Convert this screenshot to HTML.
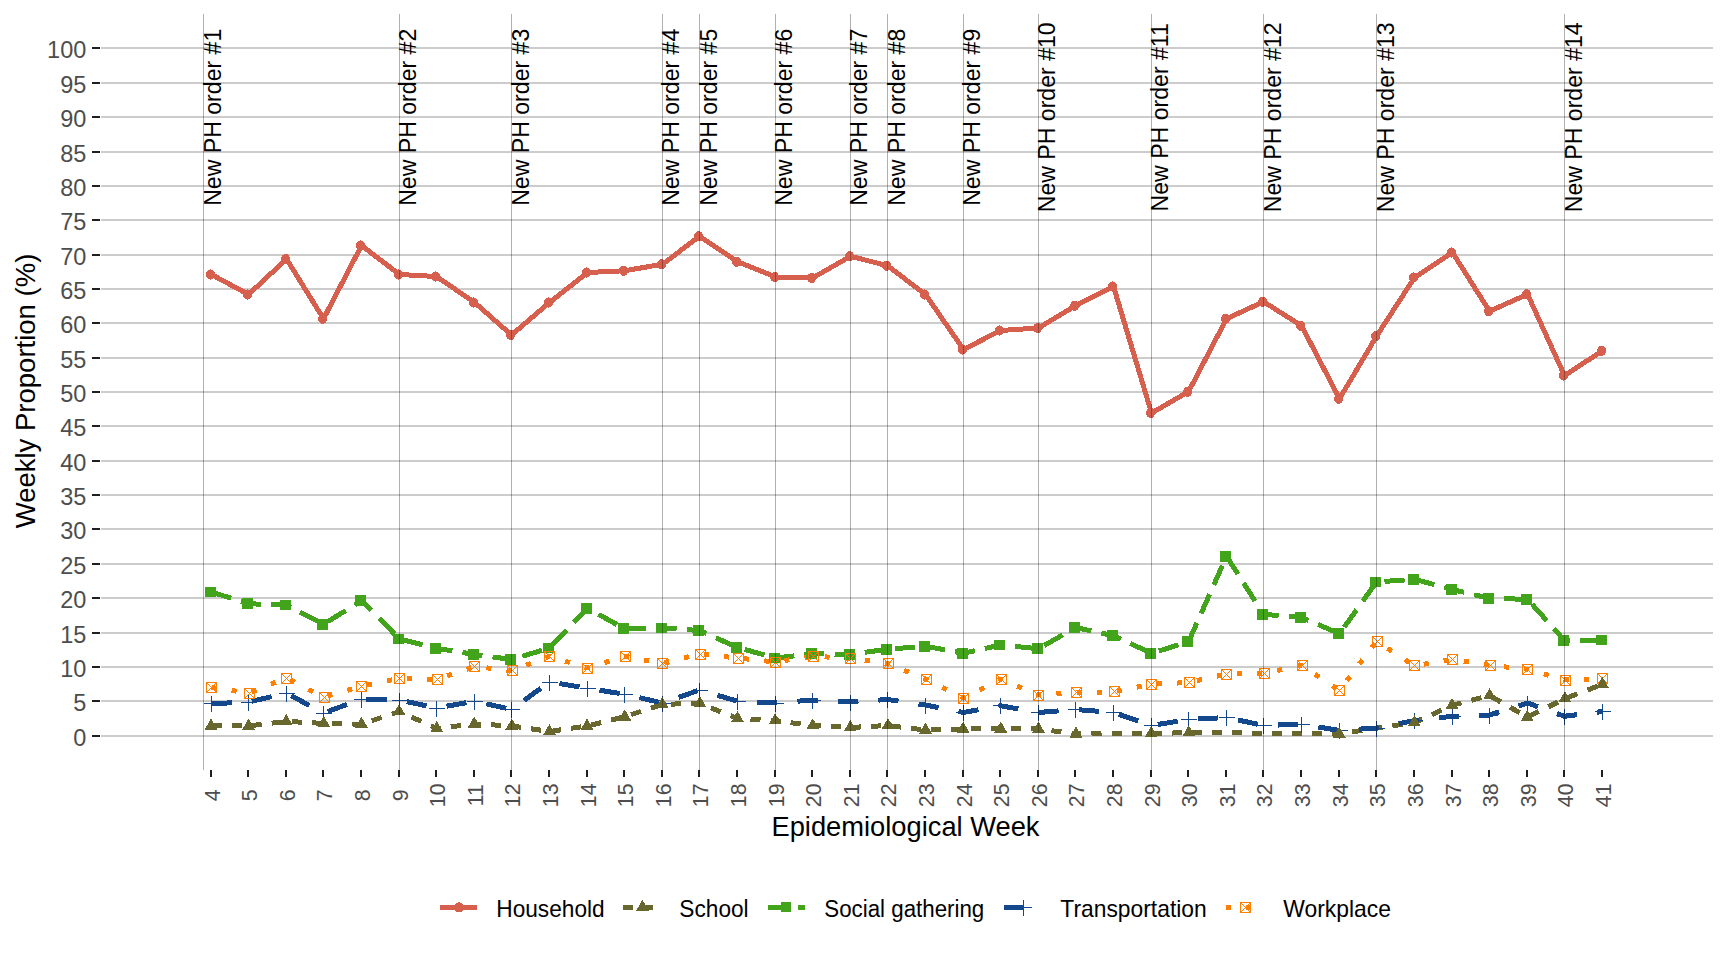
<!DOCTYPE html>
<html><head><meta charset="utf-8"><title>Weekly Proportion by Exposure Setting</title>
<style>html,body{margin:0;padding:0;background:#fff;}body{width:1728px;height:960px;overflow:hidden;}svg{display:block;}text{font-family:"Liberation Sans",sans-serif;}</style>
</head><body>
<svg width="1728" height="960" viewBox="0 0 1728 960">
<rect x="0" y="0" width="1728" height="960" fill="#ffffff"/>
<g stroke="#CCCCCC" stroke-width="2" shape-rendering="crispEdges">
<line x1="101" y1="736" x2="1713" y2="736"/>
<line x1="101" y1="701" x2="1713" y2="701"/>
<line x1="101" y1="667" x2="1713" y2="667"/>
<line x1="101" y1="633" x2="1713" y2="633"/>
<line x1="101" y1="598" x2="1713" y2="598"/>
<line x1="101" y1="564" x2="1713" y2="564"/>
<line x1="101" y1="529" x2="1713" y2="529"/>
<line x1="101" y1="495" x2="1713" y2="495"/>
<line x1="101" y1="461" x2="1713" y2="461"/>
<line x1="101" y1="426" x2="1713" y2="426"/>
<line x1="101" y1="392" x2="1713" y2="392"/>
<line x1="101" y1="358" x2="1713" y2="358"/>
<line x1="101" y1="323" x2="1713" y2="323"/>
<line x1="101" y1="289" x2="1713" y2="289"/>
<line x1="101" y1="255" x2="1713" y2="255"/>
<line x1="101" y1="220" x2="1713" y2="220"/>
<line x1="101" y1="186" x2="1713" y2="186"/>
<line x1="101" y1="152" x2="1713" y2="152"/>
<line x1="101" y1="117" x2="1713" y2="117"/>
<line x1="101" y1="83" x2="1713" y2="83"/>
<line x1="101" y1="48" x2="1713" y2="48"/>
</g>
<g stroke="#1F1F1F" stroke-width="2" shape-rendering="crispEdges">
<line x1="92" y1="736" x2="100" y2="736"/>
<line x1="92" y1="701" x2="100" y2="701"/>
<line x1="92" y1="667" x2="100" y2="667"/>
<line x1="92" y1="633" x2="100" y2="633"/>
<line x1="92" y1="598" x2="100" y2="598"/>
<line x1="92" y1="564" x2="100" y2="564"/>
<line x1="92" y1="529" x2="100" y2="529"/>
<line x1="92" y1="495" x2="100" y2="495"/>
<line x1="92" y1="461" x2="100" y2="461"/>
<line x1="92" y1="426" x2="100" y2="426"/>
<line x1="92" y1="392" x2="100" y2="392"/>
<line x1="92" y1="358" x2="100" y2="358"/>
<line x1="92" y1="323" x2="100" y2="323"/>
<line x1="92" y1="289" x2="100" y2="289"/>
<line x1="92" y1="255" x2="100" y2="255"/>
<line x1="92" y1="220" x2="100" y2="220"/>
<line x1="92" y1="186" x2="100" y2="186"/>
<line x1="92" y1="152" x2="100" y2="152"/>
<line x1="92" y1="117" x2="100" y2="117"/>
<line x1="92" y1="83" x2="100" y2="83"/>
<line x1="92" y1="48" x2="100" y2="48"/>
</g>
<g stroke="#1F1F1F" stroke-width="2" shape-rendering="crispEdges">
<line x1="211" y1="770" x2="211" y2="777"/>
<line x1="248" y1="770" x2="248" y2="777"/>
<line x1="286" y1="770" x2="286" y2="777"/>
<line x1="323" y1="770" x2="323" y2="777"/>
<line x1="361" y1="770" x2="361" y2="777"/>
<line x1="399" y1="770" x2="399" y2="777"/>
<line x1="436" y1="770" x2="436" y2="777"/>
<line x1="474" y1="770" x2="474" y2="777"/>
<line x1="511" y1="770" x2="511" y2="777"/>
<line x1="549" y1="770" x2="549" y2="777"/>
<line x1="587" y1="770" x2="587" y2="777"/>
<line x1="624" y1="770" x2="624" y2="777"/>
<line x1="662" y1="770" x2="662" y2="777"/>
<line x1="699" y1="770" x2="699" y2="777"/>
<line x1="737" y1="770" x2="737" y2="777"/>
<line x1="775" y1="770" x2="775" y2="777"/>
<line x1="812" y1="770" x2="812" y2="777"/>
<line x1="850" y1="770" x2="850" y2="777"/>
<line x1="887" y1="770" x2="887" y2="777"/>
<line x1="925" y1="770" x2="925" y2="777"/>
<line x1="963" y1="770" x2="963" y2="777"/>
<line x1="1000" y1="770" x2="1000" y2="777"/>
<line x1="1038" y1="770" x2="1038" y2="777"/>
<line x1="1075" y1="770" x2="1075" y2="777"/>
<line x1="1113" y1="770" x2="1113" y2="777"/>
<line x1="1151" y1="770" x2="1151" y2="777"/>
<line x1="1188" y1="770" x2="1188" y2="777"/>
<line x1="1226" y1="770" x2="1226" y2="777"/>
<line x1="1263" y1="770" x2="1263" y2="777"/>
<line x1="1301" y1="770" x2="1301" y2="777"/>
<line x1="1339" y1="770" x2="1339" y2="777"/>
<line x1="1376" y1="770" x2="1376" y2="777"/>
<line x1="1414" y1="770" x2="1414" y2="777"/>
<line x1="1452" y1="770" x2="1452" y2="777"/>
<line x1="1489" y1="770" x2="1489" y2="777"/>
<line x1="1527" y1="770" x2="1527" y2="777"/>
<line x1="1564" y1="770" x2="1564" y2="777"/>
<line x1="1602" y1="770" x2="1602" y2="777"/>
</g>
<g font-size="23.5" fill="#4D4D4D" text-anchor="end">
<text x="86.3" y="746">0</text>
<text x="86.3" y="711">5</text>
<text x="86.3" y="677">10</text>
<text x="86.3" y="643">15</text>
<text x="86.3" y="608">20</text>
<text x="86.3" y="574">25</text>
<text x="86.3" y="539">30</text>
<text x="86.3" y="505">35</text>
<text x="86.3" y="471">40</text>
<text x="86.3" y="436">45</text>
<text x="86.3" y="402">50</text>
<text x="86.3" y="368">55</text>
<text x="86.3" y="333">60</text>
<text x="86.3" y="299">65</text>
<text x="86.3" y="265">70</text>
<text x="86.3" y="230">75</text>
<text x="86.3" y="196">80</text>
<text x="86.3" y="162">85</text>
<text x="86.3" y="127">90</text>
<text x="86.3" y="93">95</text>
<text x="86.3" y="58">100</text>
</g>
<g font-size="21.3" fill="#4D4D4D" text-anchor="middle">
<text transform="translate(220.1,795.3) rotate(-90)">4</text>
<text transform="translate(257.1,795.3) rotate(-90)">5</text>
<text transform="translate(295.1,795.3) rotate(-90)">6</text>
<text transform="translate(332.1,795.3) rotate(-90)">7</text>
<text transform="translate(370.1,795.3) rotate(-90)">8</text>
<text transform="translate(408.1,795.3) rotate(-90)">9</text>
<text transform="translate(445.1,795.3) rotate(-90)">10</text>
<text transform="translate(483.1,795.3) rotate(-90)">11</text>
<text transform="translate(520.1,795.3) rotate(-90)">12</text>
<text transform="translate(558.1,795.3) rotate(-90)">13</text>
<text transform="translate(596.1,795.3) rotate(-90)">14</text>
<text transform="translate(633.1,795.3) rotate(-90)">15</text>
<text transform="translate(671.1,795.3) rotate(-90)">16</text>
<text transform="translate(708.1,795.3) rotate(-90)">17</text>
<text transform="translate(746.1,795.3) rotate(-90)">18</text>
<text transform="translate(784.1,795.3) rotate(-90)">19</text>
<text transform="translate(821.1,795.3) rotate(-90)">20</text>
<text transform="translate(859.1,795.3) rotate(-90)">21</text>
<text transform="translate(896.1,795.3) rotate(-90)">22</text>
<text transform="translate(934.1,795.3) rotate(-90)">23</text>
<text transform="translate(972.1,795.3) rotate(-90)">24</text>
<text transform="translate(1009.1,795.3) rotate(-90)">25</text>
<text transform="translate(1047.1,795.3) rotate(-90)">26</text>
<text transform="translate(1084.1,795.3) rotate(-90)">27</text>
<text transform="translate(1122.1,795.3) rotate(-90)">28</text>
<text transform="translate(1160.1,795.3) rotate(-90)">29</text>
<text transform="translate(1197.1,795.3) rotate(-90)">30</text>
<text transform="translate(1235.1,795.3) rotate(-90)">31</text>
<text transform="translate(1272.1,795.3) rotate(-90)">32</text>
<text transform="translate(1310.1,795.3) rotate(-90)">33</text>
<text transform="translate(1348.1,795.3) rotate(-90)">34</text>
<text transform="translate(1385.1,795.3) rotate(-90)">35</text>
<text transform="translate(1423.1,795.3) rotate(-90)">36</text>
<text transform="translate(1461.1,795.3) rotate(-90)">37</text>
<text transform="translate(1498.1,795.3) rotate(-90)">38</text>
<text transform="translate(1536.1,795.3) rotate(-90)">39</text>
<text transform="translate(1573.1,795.3) rotate(-90)">40</text>
<text transform="translate(1611.1,795.3) rotate(-90)">41</text>
</g>
<text x="905.5" y="836" font-size="27.3" fill="#000" text-anchor="middle">Epidemiological Week</text>
<text transform="translate(35.2,391) rotate(-90)" font-size="27.5" fill="#000" text-anchor="middle">Weekly Proportion (%)</text>
<g fill="none" stroke-width="5" stroke-linejoin="round" stroke-linecap="butt" shape-rendering="crispEdges">
<path d="M211.50,274.50 L248.50,294.50 L286.50,259.00 L323.50,318.75 L361.50,245.50 L399.50,274.50 L436.50,276.50 L474.50,302.50 L511.50,335.00 L549.50,302.50 L587.50,272.50 L624.50,270.75 L662.50,264.25 L699.50,236.25 L737.50,261.75 L775.50,277.00 L812.50,278.00 L850.50,256.25 L887.50,265.75 L925.50,294.50 L963.50,349.50 L1000.50,330.50 L1038.50,328.00 L1075.50,305.75 L1113.50,286.50 L1151.50,413.00 L1188.50,391.75 L1226.50,318.75 L1263.50,301.75 L1301.50,325.75 L1339.50,398.75 L1376.50,336.25 L1414.50,277.50 L1452.50,252.50 L1489.50,311.25 L1527.50,294.25 L1564.50,375.50 L1602.50,350.75" stroke="#D6604D"/>
<path d="M211.50,725.90 L221.53,725.90 M231.56,725.90 L241.59,725.90 M251.62,725.53 L261.65,724.34 M271.68,723.16 L281.70,721.97 M291.73,721.68 L301.76,722.23 M311.79,722.77 L321.82,723.31 M331.85,723.58 L341.88,723.79 M351.91,724.00 L361.50,724.20 L361.94,724.05 M371.87,720.73 L381.81,717.41 M391.74,714.09 L399.50,711.50 L401.64,712.48 M411.38,716.93 L421.12,721.38 M430.86,725.83 L436.50,728.40 L440.73,727.90 M450.76,726.71 L460.78,725.52 M470.81,724.34 L474.50,723.90 L480.84,724.24 M490.87,724.78 L500.90,725.33 M510.93,725.87 L511.50,725.90 L520.96,727.29 M530.98,728.77 L541.01,730.25 M551.04,731.27 L561.06,729.80 M571.09,728.32 L581.11,726.84 M591.13,725.01 L601.13,722.55 M611.13,720.09 L621.13,717.63 M631.09,714.63 L641.03,711.36 M650.97,708.09 L660.91,704.82 M670.93,704.10 L680.96,703.85 M690.99,703.61 L699.50,703.40 L700.99,703.99 M710.85,707.88 L720.70,711.77 M730.56,715.66 L737.50,718.40 L740.47,718.57 M750.50,719.15 L760.53,719.73 M770.56,720.31 L775.50,720.60 L780.59,721.29 M790.61,722.64 L800.64,724.00 M810.67,725.35 L812.50,725.60 L820.70,726.01 M830.73,726.51 L840.76,727.01 M850.79,727.48 L860.82,726.94 M870.85,726.40 L880.88,725.86 M890.90,725.90 L900.93,727.09 M910.96,728.28 L920.99,729.47 M931.02,729.85 L941.05,729.59 M951.08,729.33 L961.11,729.06 M971.14,728.98 L981.17,728.95 M991.20,728.93 L1000.50,728.90 L1001.23,728.90 M1011.26,728.90 L1021.29,728.90 M1031.32,728.90 L1038.50,728.90 L1041.35,729.28 M1051.38,730.64 L1061.40,731.99 M1071.43,733.35 L1075.50,733.90 L1081.46,733.82 M1091.49,733.69 L1101.52,733.56 M1111.55,733.43 L1113.50,733.40 L1121.58,733.40 M1131.61,733.40 L1141.64,733.40 M1151.67,733.40 L1161.70,733.21 M1171.73,733.02 L1181.76,732.83 M1191.79,732.71 L1201.82,732.74 M1211.85,732.76 L1221.88,732.79 M1231.91,732.84 L1241.94,732.93 M1251.97,733.01 L1262.00,733.09 M1272.03,733.12 L1282.06,733.15 M1292.09,733.18 L1301.50,733.20 L1302.12,733.21 M1312.15,733.40 L1322.18,733.58 M1332.21,733.77 L1339.50,733.90 L1342.24,733.48 M1352.26,731.93 L1362.29,730.39 M1372.31,728.85 L1376.50,728.20 L1382.34,727.32 M1392.36,725.82 L1402.39,724.32 M1412.41,722.81 L1414.50,722.50 L1422.22,718.99 M1431.96,714.55 L1441.71,710.11 M1451.46,705.68 L1452.50,705.20 L1461.42,702.86 M1471.41,700.24 L1481.40,697.62 M1491.29,696.52 L1500.73,701.91 M1510.17,707.30 L1519.61,712.69 M1529.08,716.41 L1538.72,711.60 M1548.37,706.79 L1558.01,701.98 M1567.74,697.52 L1577.61,693.76 M1587.49,690.01 L1597.37,686.25" stroke="#67672E"/>
<path d="M211.50,592.00 L231.10,598.22 M240.90,601.34 L248.50,603.75 L260.82,604.16 M270.88,604.49 L286.50,605.00 L290.66,607.16 M299.96,612.00 L318.56,621.68 M327.72,621.64 L345.72,610.51 M354.72,604.94 L361.50,600.75 L371.13,610.44 M378.85,618.21 L394.30,633.76 M402.74,639.81 L422.56,644.77 M432.47,647.24 L436.50,648.25 L452.45,650.87 M462.45,652.52 L474.50,654.50 L482.48,655.58 M492.51,656.93 L511.50,659.50 L512.54,659.18 M522.37,656.21 L542.03,650.26 M551.31,646.11 L566.40,630.32 M573.94,622.43 L587.50,608.25 L589.37,609.29 M598.57,614.38 L616.97,624.58 M626.33,628.71 L646.45,628.32 M656.51,628.12 L662.50,628.00 L676.62,628.95 M686.67,629.63 L699.50,630.50 L706.38,633.58 M715.89,637.83 L734.90,646.34 M744.67,649.48 L764.42,654.94 M774.29,657.67 L775.50,658.00 L794.34,655.84 M804.38,654.68 L812.50,653.75 L824.48,653.91 M834.54,654.04 L850.50,654.25 L854.65,653.69 M864.68,652.33 L884.73,649.62 M894.77,648.68 L914.88,647.09 M924.93,646.30 L925.50,646.25 L944.91,649.83 M954.90,651.67 L963.50,653.25 L974.83,650.72 M984.78,648.51 L1000.50,645.00 L1004.71,645.42 M1014.76,646.41 L1034.85,648.39 M1044.31,645.41 L1062.59,634.91 M1071.73,629.67 L1075.50,627.50 L1091.30,630.93 M1101.25,633.09 L1113.50,635.75 L1120.79,639.11 M1130.26,643.47 L1149.20,652.19 M1158.93,650.94 L1178.56,644.84 M1188.37,641.79 L1188.50,641.75 L1196.90,622.85 M1201.13,613.34 L1209.58,594.31 M1213.81,584.80 L1222.27,565.77 M1226.50,556.26 L1226.50,556.25 L1237.89,574.11 M1243.60,583.05 L1255.00,600.92 M1260.70,609.86 L1263.50,614.25 L1278.66,615.55 M1288.71,616.41 L1301.50,617.50 L1308.45,620.47 M1318.00,624.56 L1337.11,632.73 M1344.16,627.23 L1356.57,609.87 M1362.78,601.18 L1375.20,583.82 M1384.45,581.42 L1404.55,579.97 M1414.60,579.28 L1434.37,584.61 M1444.25,587.28 L1452.50,589.50 L1464.06,592.31 M1473.98,594.73 L1489.50,598.50 L1493.89,598.59 M1503.95,598.79 L1524.07,599.18 M1532.28,604.57 L1546.77,620.74 M1554.02,628.82 L1564.50,640.50 L1570.08,640.43 M1580.14,640.29 L1600.26,640.03" stroke="#42A41A"/>
<path d="M211.50,703.75 L231.74,702.79 M251.90,701.22 L271.70,696.66 M291.10,695.70 L309.30,705.42 M327.72,711.47 L346.92,704.53 M366.37,699.35 L386.62,699.75 M406.73,701.56 L426.59,705.86 M446.50,706.22 L466.48,702.67 M486.37,703.90 L506.20,708.32 M523.96,700.48 L540.97,688.17 M559.49,683.64 L579.51,686.94 M599.53,690.20 L619.56,693.45 M639.41,697.68 L659.21,702.24 M678.55,697.36 L697.80,690.60 M717.30,695.27 L736.82,701.05 M757.04,702.15 L775.50,703.00 L777.28,702.86 M797.48,701.22 L812.50,700.00 L817.69,700.27 M837.92,701.34 L850.50,702.00 L858.15,701.48 M878.37,700.12 L887.50,699.50 L898.51,701.09 M918.58,704.00 L925.50,705.00 L938.55,707.58 M958.47,711.51 L963.50,712.50 L978.42,709.78 M998.39,706.14 L1000.50,705.75 L1018.37,708.92 M1038.35,712.47 L1038.50,712.50 L1058.55,710.87 M1078.75,709.76 L1098.95,711.35 M1118.90,714.35 L1138.20,720.95 M1157.72,724.49 L1177.75,721.24 M1197.87,719.01 L1218.11,717.94 M1238.12,720.01 L1257.97,724.30 M1278.11,725.02 L1298.36,724.35 M1318.41,727.03 L1338.43,730.32 M1358.64,729.21 L1376.50,728.00 L1378.83,727.54 M1398.74,723.61 L1414.50,720.50 L1418.71,720.03 M1438.86,717.78 L1452.50,716.25 L1459.04,716.03 M1479.29,715.35 L1489.50,715.00 L1499.13,711.96 M1518.56,705.82 L1527.50,703.00 L1537.87,706.71 M1557.09,713.60 L1564.50,716.25 L1576.86,714.71 M1596.98,712.19 L1602.50,711.50" stroke="#14488D"/>
<path d="M211.50,687.50 L216.52,688.25 M231.57,690.48 L236.59,691.23 M251.52,691.81 L256.35,689.90 M270.84,684.18 L275.67,682.28 M290.02,679.81 L294.66,682.19 M308.58,689.34 L313.23,691.72 M327.39,695.90 L332.34,694.50 M347.19,690.30 L352.14,688.90 M367.04,685.08 L372.03,684.03 M387.02,680.88 L392.01,679.83 M407.05,678.51 L412.08,678.68 M427.17,679.18 L432.20,679.35 M447.00,675.91 L451.89,674.24 M466.57,669.21 L471.46,667.54 M486.45,667.87 L491.48,668.45 M506.55,670.18 L511.50,670.75 L511.57,670.72 M526.11,665.17 L530.96,663.33 M545.50,657.78 L549.50,656.25 L550.36,656.52 M565.14,661.09 L570.06,662.61 M584.84,667.18 L587.50,668.00 L589.77,667.28 M604.52,662.59 L609.44,661.03 M624.19,656.35 L624.50,656.25 L629.19,657.15 M644.20,660.01 L649.21,660.96 M664.21,663.06 L669.18,661.79 M684.08,657.96 L689.05,656.68 M704.01,654.47 L709.03,655.00 M724.11,656.59 L729.13,657.12 M744.21,658.71 L749.24,659.24 M764.31,660.82 L769.34,661.35 M784.40,660.62 L789.41,659.84 M804.46,657.50 L809.48,656.72 M824.56,656.88 L829.58,657.15 M844.67,657.94 L849.70,658.21 M864.76,660.27 L869.78,660.99 M884.84,663.12 L887.50,663.50 L889.76,664.42 M904.19,670.31 L909.01,672.27 M923.44,678.16 L925.50,679.00 L928.17,680.33 M942.17,687.33 L946.83,689.67 M960.83,696.67 L963.50,698.00 L965.49,696.99 M979.45,689.91 L984.11,687.56 M998.07,680.48 L1000.50,679.25 L1002.80,680.20 M1017.20,686.17 L1022.01,688.16 M1036.41,694.13 L1038.50,695.00 L1041.34,694.83 M1056.43,693.91 L1061.46,693.60 M1076.55,692.72 L1081.58,692.59 M1096.67,692.19 L1101.70,692.06 M1116.77,691.11 L1121.77,690.12 M1136.77,687.16 L1141.77,686.17 M1156.81,684.00 L1161.84,683.76 M1176.93,683.05 L1181.95,682.81 M1196.97,680.60 L1201.96,679.49 M1216.93,676.14 L1221.92,675.03 M1236.97,673.86 L1242.00,673.79 M1257.09,673.59 L1262.12,673.52 M1277.10,670.55 L1282.10,669.46 M1297.07,666.21 L1301.50,665.25 L1301.99,665.58 M1315.01,674.23 L1319.35,677.11 M1332.38,685.77 L1336.72,688.65 M1346.86,680.70 L1349.98,676.55 M1359.34,664.10 L1362.46,659.94 M1371.81,647.49 L1374.93,643.34 M1387.45,648.31 L1391.83,651.13 M1404.98,659.61 L1409.36,662.44 M1423.66,664.24 L1428.67,663.42 M1443.71,660.95 L1448.73,660.12 M1463.77,661.25 L1468.79,662.03 M1483.83,664.37 L1488.85,665.15 M1503.93,666.77 L1508.95,667.30 M1524.03,668.88 L1527.50,669.25 L1529.03,669.69 M1543.86,674.00 L1548.80,675.44 M1563.63,679.75 L1564.50,680.00 L1568.64,679.86 M1583.73,679.37 L1588.76,679.20" stroke="#FF7F00"/>
</g>
<g shape-rendering="crispEdges">
<ellipse cx="210.60" cy="274.50" rx="4.5" ry="5.1" fill="#D6604D"/>
<ellipse cx="247.60" cy="294.50" rx="4.5" ry="5.1" fill="#D6604D"/>
<ellipse cx="285.60" cy="259.00" rx="4.5" ry="5.1" fill="#D6604D"/>
<ellipse cx="322.60" cy="318.75" rx="4.5" ry="5.1" fill="#D6604D"/>
<ellipse cx="360.60" cy="245.50" rx="4.5" ry="5.1" fill="#D6604D"/>
<ellipse cx="398.60" cy="274.50" rx="4.5" ry="5.1" fill="#D6604D"/>
<ellipse cx="435.60" cy="276.50" rx="4.5" ry="5.1" fill="#D6604D"/>
<ellipse cx="473.60" cy="302.50" rx="4.5" ry="5.1" fill="#D6604D"/>
<ellipse cx="510.60" cy="335.00" rx="4.5" ry="5.1" fill="#D6604D"/>
<ellipse cx="548.60" cy="302.50" rx="4.5" ry="5.1" fill="#D6604D"/>
<ellipse cx="586.60" cy="272.50" rx="4.5" ry="5.1" fill="#D6604D"/>
<ellipse cx="623.60" cy="270.75" rx="4.5" ry="5.1" fill="#D6604D"/>
<ellipse cx="661.60" cy="264.25" rx="4.5" ry="5.1" fill="#D6604D"/>
<ellipse cx="698.60" cy="236.25" rx="4.5" ry="5.1" fill="#D6604D"/>
<ellipse cx="736.60" cy="261.75" rx="4.5" ry="5.1" fill="#D6604D"/>
<ellipse cx="774.60" cy="277.00" rx="4.5" ry="5.1" fill="#D6604D"/>
<ellipse cx="811.60" cy="278.00" rx="4.5" ry="5.1" fill="#D6604D"/>
<ellipse cx="849.60" cy="256.25" rx="4.5" ry="5.1" fill="#D6604D"/>
<ellipse cx="886.60" cy="265.75" rx="4.5" ry="5.1" fill="#D6604D"/>
<ellipse cx="924.60" cy="294.50" rx="4.5" ry="5.1" fill="#D6604D"/>
<ellipse cx="962.60" cy="349.50" rx="4.5" ry="5.1" fill="#D6604D"/>
<ellipse cx="999.60" cy="330.50" rx="4.5" ry="5.1" fill="#D6604D"/>
<ellipse cx="1037.60" cy="328.00" rx="4.5" ry="5.1" fill="#D6604D"/>
<ellipse cx="1074.60" cy="305.75" rx="4.5" ry="5.1" fill="#D6604D"/>
<ellipse cx="1112.60" cy="286.50" rx="4.5" ry="5.1" fill="#D6604D"/>
<ellipse cx="1150.60" cy="413.00" rx="4.5" ry="5.1" fill="#D6604D"/>
<ellipse cx="1187.60" cy="391.75" rx="4.5" ry="5.1" fill="#D6604D"/>
<ellipse cx="1225.60" cy="318.75" rx="4.5" ry="5.1" fill="#D6604D"/>
<ellipse cx="1262.60" cy="301.75" rx="4.5" ry="5.1" fill="#D6604D"/>
<ellipse cx="1300.60" cy="325.75" rx="4.5" ry="5.1" fill="#D6604D"/>
<ellipse cx="1338.60" cy="398.75" rx="4.5" ry="5.1" fill="#D6604D"/>
<ellipse cx="1375.60" cy="336.25" rx="4.5" ry="5.1" fill="#D6604D"/>
<ellipse cx="1413.60" cy="277.50" rx="4.5" ry="5.1" fill="#D6604D"/>
<ellipse cx="1451.60" cy="252.50" rx="4.5" ry="5.1" fill="#D6604D"/>
<ellipse cx="1488.60" cy="311.25" rx="4.5" ry="5.1" fill="#D6604D"/>
<ellipse cx="1526.60" cy="294.25" rx="4.5" ry="5.1" fill="#D6604D"/>
<ellipse cx="1563.60" cy="375.50" rx="4.5" ry="5.1" fill="#D6604D"/>
<ellipse cx="1601.60" cy="350.75" rx="4.5" ry="5.1" fill="#D6604D"/>
<rect x="205.20" y="586.70" width="10.6" height="10.6" fill="#42A41A"/>
<rect x="242.20" y="598.45" width="10.6" height="10.6" fill="#42A41A"/>
<rect x="280.20" y="599.70" width="10.6" height="10.6" fill="#42A41A"/>
<rect x="317.20" y="618.95" width="10.6" height="10.6" fill="#42A41A"/>
<rect x="355.20" y="595.45" width="10.6" height="10.6" fill="#42A41A"/>
<rect x="393.20" y="633.70" width="10.6" height="10.6" fill="#42A41A"/>
<rect x="430.20" y="642.95" width="10.6" height="10.6" fill="#42A41A"/>
<rect x="468.20" y="649.20" width="10.6" height="10.6" fill="#42A41A"/>
<rect x="505.20" y="654.20" width="10.6" height="10.6" fill="#42A41A"/>
<rect x="543.20" y="642.70" width="10.6" height="10.6" fill="#42A41A"/>
<rect x="581.20" y="602.95" width="10.6" height="10.6" fill="#42A41A"/>
<rect x="618.20" y="623.45" width="10.6" height="10.6" fill="#42A41A"/>
<rect x="656.20" y="622.70" width="10.6" height="10.6" fill="#42A41A"/>
<rect x="693.20" y="625.20" width="10.6" height="10.6" fill="#42A41A"/>
<rect x="731.20" y="642.20" width="10.6" height="10.6" fill="#42A41A"/>
<rect x="769.20" y="652.70" width="10.6" height="10.6" fill="#42A41A"/>
<rect x="806.20" y="648.45" width="10.6" height="10.6" fill="#42A41A"/>
<rect x="844.20" y="648.95" width="10.6" height="10.6" fill="#42A41A"/>
<rect x="881.20" y="643.95" width="10.6" height="10.6" fill="#42A41A"/>
<rect x="919.20" y="640.95" width="10.6" height="10.6" fill="#42A41A"/>
<rect x="957.20" y="647.95" width="10.6" height="10.6" fill="#42A41A"/>
<rect x="994.20" y="639.70" width="10.6" height="10.6" fill="#42A41A"/>
<rect x="1032.20" y="643.45" width="10.6" height="10.6" fill="#42A41A"/>
<rect x="1069.20" y="622.20" width="10.6" height="10.6" fill="#42A41A"/>
<rect x="1107.20" y="630.45" width="10.6" height="10.6" fill="#42A41A"/>
<rect x="1145.20" y="647.95" width="10.6" height="10.6" fill="#42A41A"/>
<rect x="1182.20" y="636.45" width="10.6" height="10.6" fill="#42A41A"/>
<rect x="1220.20" y="550.95" width="10.6" height="10.6" fill="#42A41A"/>
<rect x="1257.20" y="608.95" width="10.6" height="10.6" fill="#42A41A"/>
<rect x="1295.20" y="612.20" width="10.6" height="10.6" fill="#42A41A"/>
<rect x="1333.20" y="628.45" width="10.6" height="10.6" fill="#42A41A"/>
<rect x="1370.20" y="576.70" width="10.6" height="10.6" fill="#42A41A"/>
<rect x="1408.20" y="573.95" width="10.6" height="10.6" fill="#42A41A"/>
<rect x="1446.20" y="584.20" width="10.6" height="10.6" fill="#42A41A"/>
<rect x="1483.20" y="593.20" width="10.6" height="10.6" fill="#42A41A"/>
<rect x="1521.20" y="593.95" width="10.6" height="10.6" fill="#42A41A"/>
<rect x="1558.20" y="635.20" width="10.6" height="10.6" fill="#42A41A"/>
<rect x="1596.20" y="634.70" width="10.6" height="10.6" fill="#42A41A"/>
<path d="M203.5,703.5H219.5M211.5,695.5V711.5" stroke="#14488D" stroke-width="1" fill="none"/>
<path d="M240.5,702.5H256.5M248.5,694.5V710.5" stroke="#14488D" stroke-width="1" fill="none"/>
<path d="M278.5,693.5H294.5M286.5,685.5V701.5" stroke="#14488D" stroke-width="1" fill="none"/>
<path d="M315.5,713.5H331.5M323.5,705.5V721.5" stroke="#14488D" stroke-width="1" fill="none"/>
<path d="M353.5,699.5H369.5M361.5,691.5V707.5" stroke="#14488D" stroke-width="1" fill="none"/>
<path d="M391.5,700.5H407.5M399.5,692.5V708.5" stroke="#14488D" stroke-width="1" fill="none"/>
<path d="M428.5,708.5H444.5M436.5,700.5V716.5" stroke="#14488D" stroke-width="1" fill="none"/>
<path d="M466.5,701.5H482.5M474.5,693.5V709.5" stroke="#14488D" stroke-width="1" fill="none"/>
<path d="M503.5,709.5H519.5M511.5,701.5V717.5" stroke="#14488D" stroke-width="1" fill="none"/>
<path d="M541.5,682.5H557.5M549.5,674.5V690.5" stroke="#14488D" stroke-width="1" fill="none"/>
<path d="M579.5,688.5H595.5M587.5,680.5V696.5" stroke="#14488D" stroke-width="1" fill="none"/>
<path d="M616.5,694.5H632.5M624.5,686.5V702.5" stroke="#14488D" stroke-width="1" fill="none"/>
<path d="M654.5,703.5H670.5M662.5,695.5V711.5" stroke="#14488D" stroke-width="1" fill="none"/>
<path d="M691.5,690.5H707.5M699.5,682.5V698.5" stroke="#14488D" stroke-width="1" fill="none"/>
<path d="M729.5,701.5H745.5M737.5,693.5V709.5" stroke="#14488D" stroke-width="1" fill="none"/>
<path d="M767.5,703.5H783.5M775.5,695.5V711.5" stroke="#14488D" stroke-width="1" fill="none"/>
<path d="M804.5,700.5H820.5M812.5,692.5V708.5" stroke="#14488D" stroke-width="1" fill="none"/>
<path d="M842.5,702.5H858.5M850.5,694.5V710.5" stroke="#14488D" stroke-width="1" fill="none"/>
<path d="M879.5,699.5H895.5M887.5,691.5V707.5" stroke="#14488D" stroke-width="1" fill="none"/>
<path d="M917.5,705.5H933.5M925.5,697.5V713.5" stroke="#14488D" stroke-width="1" fill="none"/>
<path d="M955.5,712.5H971.5M963.5,704.5V720.5" stroke="#14488D" stroke-width="1" fill="none"/>
<path d="M992.5,705.5H1008.5M1000.5,697.5V713.5" stroke="#14488D" stroke-width="1" fill="none"/>
<path d="M1030.5,712.5H1046.5M1038.5,704.5V720.5" stroke="#14488D" stroke-width="1" fill="none"/>
<path d="M1067.5,709.5H1083.5M1075.5,701.5V717.5" stroke="#14488D" stroke-width="1" fill="none"/>
<path d="M1105.5,712.5H1121.5M1113.5,704.5V720.5" stroke="#14488D" stroke-width="1" fill="none"/>
<path d="M1143.5,725.5H1159.5M1151.5,717.5V733.5" stroke="#14488D" stroke-width="1" fill="none"/>
<path d="M1180.5,719.5H1196.5M1188.5,711.5V727.5" stroke="#14488D" stroke-width="1" fill="none"/>
<path d="M1218.5,717.5H1234.5M1226.5,709.5V725.5" stroke="#14488D" stroke-width="1" fill="none"/>
<path d="M1255.5,725.5H1271.5M1263.5,717.5V733.5" stroke="#14488D" stroke-width="1" fill="none"/>
<path d="M1293.5,724.5H1309.5M1301.5,716.5V732.5" stroke="#14488D" stroke-width="1" fill="none"/>
<path d="M1331.5,730.5H1347.5M1339.5,722.5V738.5" stroke="#14488D" stroke-width="1" fill="none"/>
<path d="M1368.5,728.5H1384.5M1376.5,720.5V736.5" stroke="#14488D" stroke-width="1" fill="none"/>
<path d="M1406.5,720.5H1422.5M1414.5,712.5V728.5" stroke="#14488D" stroke-width="1" fill="none"/>
<path d="M1444.5,716.5H1460.5M1452.5,708.5V724.5" stroke="#14488D" stroke-width="1" fill="none"/>
<path d="M1481.5,715.5H1497.5M1489.5,707.5V723.5" stroke="#14488D" stroke-width="1" fill="none"/>
<path d="M1519.5,703.5H1535.5M1527.5,695.5V711.5" stroke="#14488D" stroke-width="1" fill="none"/>
<path d="M1556.5,716.5H1572.5M1564.5,708.5V724.5" stroke="#14488D" stroke-width="1" fill="none"/>
<path d="M1594.5,711.5H1610.5M1602.5,703.5V719.5" stroke="#14488D" stroke-width="1" fill="none"/>
<path d="M206.5,682.5H216.5V692.5H206.5Z M206.5,682.5L216.5,692.5 M206.5,692.5L216.5,682.5" stroke="#FF7F00" stroke-width="1" fill="none"/>
<path d="M244.5,688.5H254.5V698.5H244.5Z M244.5,688.5L254.5,698.5 M244.5,698.5L254.5,688.5" stroke="#FF7F00" stroke-width="1" fill="none"/>
<path d="M281.5,673.5H291.5V683.5H281.5Z M281.5,673.5L291.5,683.5 M281.5,683.5L291.5,673.5" stroke="#FF7F00" stroke-width="1" fill="none"/>
<path d="M319.5,692.5H329.5V702.5H319.5Z M319.5,692.5L329.5,702.5 M319.5,702.5L329.5,692.5" stroke="#FF7F00" stroke-width="1" fill="none"/>
<path d="M356.5,681.5H366.5V691.5H356.5Z M356.5,681.5L366.5,691.5 M356.5,691.5L366.5,681.5" stroke="#FF7F00" stroke-width="1" fill="none"/>
<path d="M394.5,673.5H404.5V683.5H394.5Z M394.5,673.5L404.5,683.5 M394.5,683.5L404.5,673.5" stroke="#FF7F00" stroke-width="1" fill="none"/>
<path d="M432.5,674.5H442.5V684.5H432.5Z M432.5,674.5L442.5,684.5 M432.5,684.5L442.5,674.5" stroke="#FF7F00" stroke-width="1" fill="none"/>
<path d="M469.5,661.5H479.5V671.5H469.5Z M469.5,661.5L479.5,671.5 M469.5,671.5L479.5,661.5" stroke="#FF7F00" stroke-width="1" fill="none"/>
<path d="M507.5,665.5H517.5V675.5H507.5Z M507.5,665.5L517.5,675.5 M507.5,675.5L517.5,665.5" stroke="#FF7F00" stroke-width="1" fill="none"/>
<path d="M544.5,651.5H554.5V661.5H544.5Z M544.5,651.5L554.5,661.5 M544.5,661.5L554.5,651.5" stroke="#FF7F00" stroke-width="1" fill="none"/>
<path d="M582.5,663.5H592.5V673.5H582.5Z M582.5,663.5L592.5,673.5 M582.5,673.5L592.5,663.5" stroke="#FF7F00" stroke-width="1" fill="none"/>
<path d="M620.5,651.5H630.5V661.5H620.5Z M620.5,651.5L630.5,661.5 M620.5,661.5L630.5,651.5" stroke="#FF7F00" stroke-width="1" fill="none"/>
<path d="M657.5,658.5H667.5V668.5H657.5Z M657.5,658.5L667.5,668.5 M657.5,668.5L667.5,658.5" stroke="#FF7F00" stroke-width="1" fill="none"/>
<path d="M695.5,649.5H705.5V659.5H695.5Z M695.5,649.5L705.5,659.5 M695.5,659.5L705.5,649.5" stroke="#FF7F00" stroke-width="1" fill="none"/>
<path d="M733.5,653.5H743.5V663.5H733.5Z M733.5,653.5L743.5,663.5 M733.5,663.5L743.5,653.5" stroke="#FF7F00" stroke-width="1" fill="none"/>
<path d="M770.5,657.5H780.5V667.5H770.5Z M770.5,657.5L780.5,667.5 M770.5,667.5L780.5,657.5" stroke="#FF7F00" stroke-width="1" fill="none"/>
<path d="M808.5,651.5H818.5V661.5H808.5Z M808.5,651.5L818.5,661.5 M808.5,661.5L818.5,651.5" stroke="#FF7F00" stroke-width="1" fill="none"/>
<path d="M845.5,653.5H855.5V663.5H845.5Z M845.5,653.5L855.5,663.5 M845.5,663.5L855.5,653.5" stroke="#FF7F00" stroke-width="1" fill="none"/>
<path d="M883.5,658.5H893.5V668.5H883.5Z M883.5,658.5L893.5,668.5 M883.5,668.5L893.5,658.5" stroke="#FF7F00" stroke-width="1" fill="none"/>
<path d="M921.5,674.5H931.5V684.5H921.5Z M921.5,674.5L931.5,684.5 M921.5,684.5L931.5,674.5" stroke="#FF7F00" stroke-width="1" fill="none"/>
<path d="M958.5,693.5H968.5V703.5H958.5Z M958.5,693.5L968.5,703.5 M958.5,703.5L968.5,693.5" stroke="#FF7F00" stroke-width="1" fill="none"/>
<path d="M996.5,674.5H1006.5V684.5H996.5Z M996.5,674.5L1006.5,684.5 M996.5,684.5L1006.5,674.5" stroke="#FF7F00" stroke-width="1" fill="none"/>
<path d="M1033.5,690.5H1043.5V700.5H1033.5Z M1033.5,690.5L1043.5,700.5 M1033.5,700.5L1043.5,690.5" stroke="#FF7F00" stroke-width="1" fill="none"/>
<path d="M1071.5,687.5H1081.5V697.5H1071.5Z M1071.5,687.5L1081.5,697.5 M1071.5,697.5L1081.5,687.5" stroke="#FF7F00" stroke-width="1" fill="none"/>
<path d="M1109.5,686.5H1119.5V696.5H1109.5Z M1109.5,686.5L1119.5,696.5 M1109.5,696.5L1119.5,686.5" stroke="#FF7F00" stroke-width="1" fill="none"/>
<path d="M1146.5,679.5H1156.5V689.5H1146.5Z M1146.5,679.5L1156.5,689.5 M1146.5,689.5L1156.5,679.5" stroke="#FF7F00" stroke-width="1" fill="none"/>
<path d="M1184.5,677.5H1194.5V687.5H1184.5Z M1184.5,677.5L1194.5,687.5 M1184.5,687.5L1194.5,677.5" stroke="#FF7F00" stroke-width="1" fill="none"/>
<path d="M1221.5,669.5H1231.5V679.5H1221.5Z M1221.5,669.5L1231.5,679.5 M1221.5,679.5L1231.5,669.5" stroke="#FF7F00" stroke-width="1" fill="none"/>
<path d="M1259.5,668.5H1269.5V678.5H1259.5Z M1259.5,668.5L1269.5,678.5 M1259.5,678.5L1269.5,668.5" stroke="#FF7F00" stroke-width="1" fill="none"/>
<path d="M1297.5,660.5H1307.5V670.5H1297.5Z M1297.5,660.5L1307.5,670.5 M1297.5,670.5L1307.5,660.5" stroke="#FF7F00" stroke-width="1" fill="none"/>
<path d="M1334.5,685.5H1344.5V695.5H1334.5Z M1334.5,685.5L1344.5,695.5 M1334.5,695.5L1344.5,685.5" stroke="#FF7F00" stroke-width="1" fill="none"/>
<path d="M1372.5,636.5H1382.5V646.5H1372.5Z M1372.5,636.5L1382.5,646.5 M1372.5,646.5L1382.5,636.5" stroke="#FF7F00" stroke-width="1" fill="none"/>
<path d="M1409.5,660.5H1419.5V670.5H1409.5Z M1409.5,660.5L1419.5,670.5 M1409.5,670.5L1419.5,660.5" stroke="#FF7F00" stroke-width="1" fill="none"/>
<path d="M1447.5,654.5H1457.5V664.5H1447.5Z M1447.5,654.5L1457.5,664.5 M1447.5,664.5L1457.5,654.5" stroke="#FF7F00" stroke-width="1" fill="none"/>
<path d="M1485.5,660.5H1495.5V670.5H1485.5Z M1485.5,660.5L1495.5,670.5 M1485.5,670.5L1495.5,660.5" stroke="#FF7F00" stroke-width="1" fill="none"/>
<path d="M1522.5,664.5H1532.5V674.5H1522.5Z M1522.5,664.5L1532.5,674.5 M1522.5,674.5L1532.5,664.5" stroke="#FF7F00" stroke-width="1" fill="none"/>
<path d="M1560.5,675.5H1570.5V685.5H1560.5Z M1560.5,675.5L1570.5,685.5 M1560.5,685.5L1570.5,675.5" stroke="#FF7F00" stroke-width="1" fill="none"/>
<path d="M1597.5,673.5H1607.5V683.5H1597.5Z M1597.5,673.5L1607.5,683.5 M1597.5,683.5L1607.5,673.5" stroke="#FF7F00" stroke-width="1" fill="none"/>
<path d="M211.05,718.43 L204.58,729.63 L217.52,729.63Z" fill="#67672E"/>
<path d="M248.66,718.43 L242.19,729.63 L255.12,729.63Z" fill="#67672E"/>
<path d="M286.26,713.93 L279.79,725.13 L292.73,725.13Z" fill="#67672E"/>
<path d="M323.87,715.93 L317.39,727.13 L330.34,727.13Z" fill="#67672E"/>
<path d="M361.47,716.73 L355.00,727.94 L367.94,727.94Z" fill="#67672E"/>
<path d="M399.07,704.03 L392.60,715.24 L405.55,715.24Z" fill="#67672E"/>
<path d="M436.68,720.93 L430.21,732.13 L443.15,732.13Z" fill="#67672E"/>
<path d="M474.28,716.43 L467.81,727.63 L480.75,727.63Z" fill="#67672E"/>
<path d="M511.89,718.43 L505.42,729.63 L518.36,729.63Z" fill="#67672E"/>
<path d="M549.50,724.03 L543.02,735.24 L555.97,735.24Z" fill="#67672E"/>
<path d="M587.10,718.43 L580.63,729.63 L593.57,729.63Z" fill="#67672E"/>
<path d="M624.70,709.33 L618.23,720.53 L631.17,720.53Z" fill="#67672E"/>
<path d="M662.31,696.83 L655.84,708.03 L668.78,708.03Z" fill="#67672E"/>
<path d="M699.91,695.93 L693.44,707.13 L706.38,707.13Z" fill="#67672E"/>
<path d="M737.52,710.93 L731.05,722.13 L743.99,722.13Z" fill="#67672E"/>
<path d="M775.12,713.13 L768.65,724.34 L781.60,724.34Z" fill="#67672E"/>
<path d="M812.73,718.13 L806.26,729.34 L819.20,729.34Z" fill="#67672E"/>
<path d="M850.34,720.03 L843.87,731.24 L856.81,731.24Z" fill="#67672E"/>
<path d="M887.94,718.03 L881.47,729.24 L894.41,729.24Z" fill="#67672E"/>
<path d="M925.54,722.53 L919.07,733.74 L932.01,733.74Z" fill="#67672E"/>
<path d="M963.15,721.53 L956.68,732.74 L969.62,732.74Z" fill="#67672E"/>
<path d="M1000.75,721.43 L994.28,732.63 L1007.22,732.63Z" fill="#67672E"/>
<path d="M1038.36,721.43 L1031.89,732.63 L1044.83,732.63Z" fill="#67672E"/>
<path d="M1075.96,726.43 L1069.49,737.63 L1082.43,737.63Z" fill="#67672E"/>
<path d="M1151.17,725.93 L1144.70,737.13 L1157.64,737.13Z" fill="#67672E"/>
<path d="M1188.78,725.23 L1182.31,736.44 L1195.25,736.44Z" fill="#67672E"/>
<path d="M1339.20,726.43 L1332.73,737.63 L1345.67,737.63Z" fill="#67672E"/>
<path d="M1414.41,715.03 L1407.94,726.24 L1420.88,726.24Z" fill="#67672E"/>
<path d="M1452.01,697.73 L1445.54,708.94 L1458.48,708.94Z" fill="#67672E"/>
<path d="M1489.62,688.03 L1483.15,699.24 L1496.09,699.24Z" fill="#67672E"/>
<path d="M1527.22,709.73 L1520.75,720.94 L1533.69,720.94Z" fill="#67672E"/>
<path d="M1564.83,691.28 L1558.36,702.49 L1571.30,702.49Z" fill="#67672E"/>
<path d="M1602.43,676.83 L1595.96,688.03 L1608.90,688.03Z" fill="#67672E"/>
</g>
<g stroke="#000" stroke-opacity="0.31" stroke-width="1" shape-rendering="crispEdges">
<line x1="203.5" y1="14" x2="203.5" y2="770"/>
<line x1="399.5" y1="14" x2="399.5" y2="770"/>
<line x1="511.5" y1="14" x2="511.5" y2="770"/>
<line x1="662.5" y1="14" x2="662.5" y2="770"/>
<line x1="699.5" y1="14" x2="699.5" y2="770"/>
<line x1="775.5" y1="14" x2="775.5" y2="770"/>
<line x1="850.5" y1="14" x2="850.5" y2="770"/>
<line x1="887.5" y1="14" x2="887.5" y2="770"/>
<line x1="963.5" y1="14" x2="963.5" y2="770"/>
<line x1="1038.5" y1="14" x2="1038.5" y2="770"/>
<line x1="1151.5" y1="14" x2="1151.5" y2="770"/>
<line x1="1263.5" y1="14" x2="1263.5" y2="770"/>
<line x1="1376.5" y1="14" x2="1376.5" y2="770"/>
<line x1="1564.5" y1="14" x2="1564.5" y2="770"/>
</g>
<g font-size="23.1" fill="#000" text-anchor="middle">
<text transform="translate(220.5,117.3) rotate(-90)">New PH order #1</text>
<text transform="translate(416.0,117.3) rotate(-90)">New PH order #2</text>
<text transform="translate(528.8,117.3) rotate(-90)">New PH order #3</text>
<text transform="translate(679.2,117.3) rotate(-90)">New PH order #4</text>
<text transform="translate(716.8,117.3) rotate(-90)">New PH order #5</text>
<text transform="translate(792.0,117.3) rotate(-90)">New PH order #6</text>
<text transform="translate(867.2,117.3) rotate(-90)">New PH order #7</text>
<text transform="translate(904.8,117.3) rotate(-90)">New PH order #8</text>
<text transform="translate(980.0,117.3) rotate(-90)">New PH order #9</text>
<text transform="translate(1055.3,117.3) rotate(-90)">New PH order #10</text>
<text transform="translate(1168.1,117.3) rotate(-90)">New PH order #11</text>
<text transform="translate(1280.9,117.3) rotate(-90)">New PH order #12</text>
<text transform="translate(1393.7,117.3) rotate(-90)">New PH order #13</text>
<text transform="translate(1581.7,117.3) rotate(-90)">New PH order #14</text>
</g>
<g shape-rendering="crispEdges">
<line x1="440" y1="907.5" x2="477" y2="907.5" stroke="#D6604D" stroke-width="5"/>
<ellipse cx="459.00" cy="907.50" rx="4.5" ry="5.1" fill="#D6604D"/>
<line x1="623" y1="907.5" x2="660" y2="907.5" stroke="#67672E" stroke-width="5" stroke-dasharray="10 10"/>
<path d="M642.40,899.83 L635.93,911.03 L648.87,911.03Z" fill="#67672E"/>
<line x1="768" y1="907.5" x2="805" y2="907.5" stroke="#42A41A" stroke-width="5" stroke-dasharray="20 10"/>
<rect x="781.00" y="902.00" width="10" height="10" fill="#42A41A"/>
<line x1="1004" y1="907.5" x2="1041" y2="907.5" stroke="#14488D" stroke-width="5" stroke-dasharray="20 20"/>
<path d="M1015.5,907.5H1031.5M1023.5,899.5V915.5" stroke="#14488D" stroke-width="1" fill="none"/>
<line x1="1226" y1="907.5" x2="1263" y2="907.5" stroke="#FF7F00" stroke-width="5" stroke-dasharray="5 15"/>
<path d="M1240.5,902.5H1250.5V912.5H1240.5Z M1240.5,902.5L1250.5,912.5 M1240.5,912.5L1250.5,902.5" stroke="#FF7F00" stroke-width="1" fill="none"/>
</g>
<g font-size="23.2" fill="#000">
<text transform="translate(496.3,917) scale(0.977,1)">Household</text>
<text transform="translate(679.3,917) scale(0.978,1)">School</text>
<text transform="translate(824.3,917) scale(0.962,1)">Social gathering</text>
<text transform="translate(1060.3,917) scale(0.985,1)">Transportation</text>
<text transform="translate(1283.3,917) scale(0.987,1)">Workplace</text>
</g>
</svg></body></html>
